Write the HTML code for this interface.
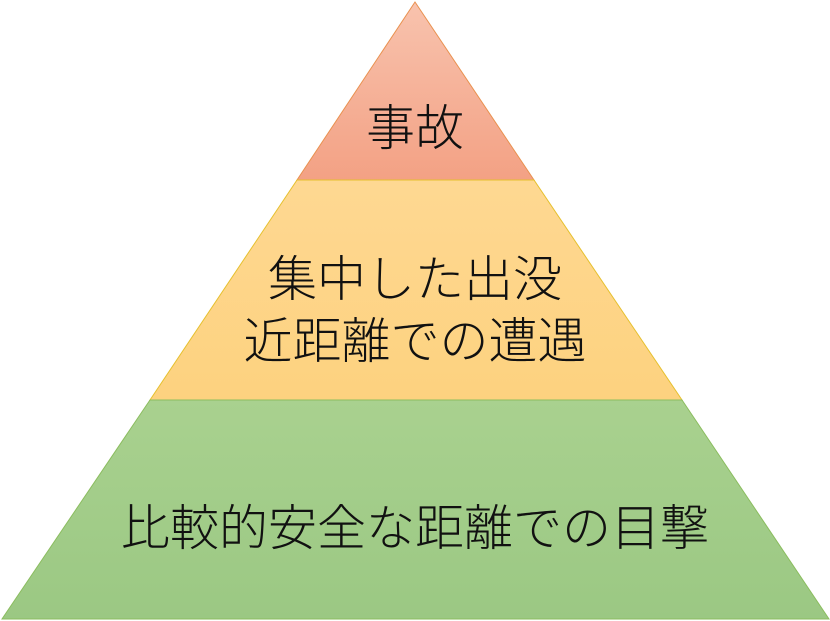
<!DOCTYPE html>
<html><head><meta charset="utf-8"><style>
html,body{margin:0;padding:0;background:#fff;width:830px;height:621px;overflow:hidden}
text{font-family:"Liberation Sans","Noto Sans CJK JP",sans-serif;fill:#111;font-weight:300}
</style></head><body>
<svg width="830" height="621" viewBox="0 0 830 621" xmlns="http://www.w3.org/2000/svg">
<defs>
<linearGradient id="g1" x1="0" y1="0" x2="0" y2="1"><stop offset="0" stop-color="#f8c3ae"/><stop offset="1" stop-color="#f3a184"/></linearGradient>
<linearGradient id="g2" x1="0" y1="0" x2="0" y2="1"><stop offset="0" stop-color="#fed892"/><stop offset="1" stop-color="#fdd27f"/></linearGradient>
<linearGradient id="g3" x1="0" y1="0" x2="0" y2="1"><stop offset="0" stop-color="#a9d18f"/><stop offset="1" stop-color="#9bc883"/></linearGradient>
</defs>
<polygon points="415,2 534,180 297,180" fill="url(#g1)" stroke="#e9914f" stroke-width="1"/>
<polygon points="297,180 534,180 682,400 150,400" fill="url(#g2)" stroke="#e6c02e" stroke-width="1"/>
<polygon points="150,400 682,400 829,619 2,619" fill="url(#g3)" stroke="#8bbd5f" stroke-width="1"/>
<text x="415" y="145" font-size="49" text-anchor="middle">事故</text>
<text x="415" y="296" font-size="49" text-anchor="middle">集中した出没</text>
<text x="415" y="358" font-size="49" text-anchor="middle">近距離での遭遇</text>
<text x="415" y="545" font-size="49" text-anchor="middle">比較的安全な距離での目撃</text>
</svg>
</body></html>
